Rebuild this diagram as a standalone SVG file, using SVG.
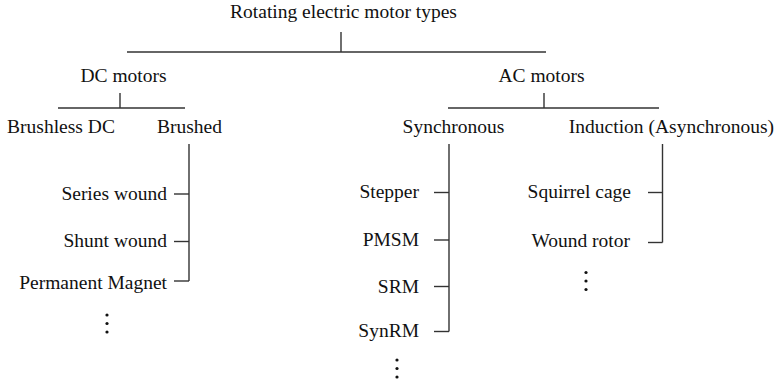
<svg xmlns="http://www.w3.org/2000/svg" width="779" height="382" viewBox="0 0 779 382">
<style>
text{font-family:"Liberation Serif","Times New Roman",serif;font-size:19.5px;fill:#111}
.m{text-anchor:middle}.e{text-anchor:end}
.c line{stroke:#333;stroke-width:1.4;fill:none}
.dot{fill:#111}
</style>
<rect width="779" height="382" fill="#fff"/>
<g class="c" id="connectors">
<line x1="341" y1="32" x2="341" y2="52"/>
<line x1="127" y1="52" x2="546" y2="52"/>
<line x1="120" y1="93" x2="120" y2="108"/>
<line x1="58" y1="108" x2="185" y2="108"/>
<line x1="544" y1="93" x2="544" y2="108"/>
<line x1="448" y1="108" x2="659" y2="108"/>
<line x1="189" y1="144" x2="189" y2="281"/>
<line x1="174" y1="194" x2="189" y2="194"/>
<line x1="174" y1="241.5" x2="189" y2="241.5"/>
<line x1="174" y1="281" x2="189" y2="281"/>
<line x1="449" y1="144" x2="449" y2="331.5"/>
<line x1="434" y1="192.5" x2="449" y2="192.5"/>
<line x1="434" y1="240" x2="449" y2="240"/>
<line x1="434" y1="286.5" x2="449" y2="286.5"/>
<line x1="434" y1="331.5" x2="449" y2="331.5"/>
<line x1="662.5" y1="144" x2="662.5" y2="242.5"/>
<line x1="648" y1="192.5" x2="662.5" y2="192.5"/>
<line x1="648" y1="242.5" x2="662.5" y2="242.5"/>
</g>
<g id="root"><text class="m" x="343.5" y="18">Rotating electric motor types</text></g>
<g id="dc"><text class="m" x="123.5" y="82">DC motors</text></g>
<g id="ac"><text class="m" x="541.5" y="82">AC motors</text></g>
<g id="brushless"><text class="m" x="61" y="133">Brushless DC</text></g>
<g id="brushed"><text class="m" x="189.5" y="133">Brushed</text></g>
<g id="sync"><text class="m" x="453.5" y="133">Synchronous</text></g>
<g id="induction"><text class="m" x="671.5" y="133">Induction (Asynchronous)</text></g>
<g id="series"><text class="e" x="167" y="200">Series wound</text></g>
<g id="shunt"><text class="e" x="167" y="247">Shunt wound</text></g>
<g id="pm"><text class="e" x="167" y="289">Permanent Magnet</text></g>
<g id="dc-more"><circle class="dot" cx="107" cy="315" r="1.6"/><circle class="dot" cx="107" cy="323.5" r="1.6"/><circle class="dot" cx="107" cy="332" r="1.6"/></g>
<g id="stepper"><text class="e" x="419" y="198">Stepper</text></g>
<g id="pmsm"><text class="e" x="419" y="246">PMSM</text></g>
<g id="srm"><text class="e" x="419" y="293">SRM</text></g>
<g id="synrm"><text class="e" x="419" y="337">SynRM</text></g>
<g id="sync-more"><circle class="dot" cx="397" cy="360" r="1.6"/><circle class="dot" cx="397" cy="368.5" r="1.6"/><circle class="dot" cx="397" cy="377" r="1.6"/></g>
<g id="squirrel"><text class="e" x="631" y="198">Squirrel cage</text></g>
<g id="wound"><text class="e" x="630" y="247">Wound rotor</text></g>
<g id="ind-more"><circle class="dot" cx="586" cy="272.5" r="1.6"/><circle class="dot" cx="586" cy="281" r="1.6"/><circle class="dot" cx="586" cy="289.5" r="1.6"/></g>
</svg>
